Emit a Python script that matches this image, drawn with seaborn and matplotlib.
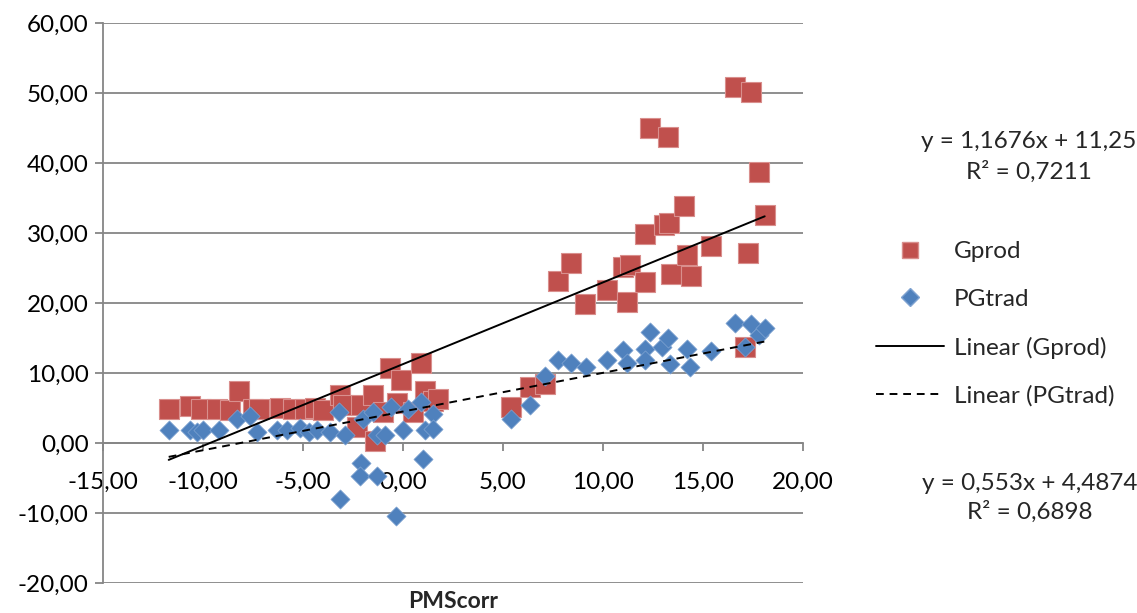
import numpy as np
import pandas as pd
import seaborn as sns
import matplotlib
matplotlib.use("Agg")
import matplotlib.pyplot as plt
from matplotlib.lines import Line2D
from matplotlib.ticker import FuncFormatter, MultipleLocator

# ---------------- data ----------------
gprod_x = [-11.7, -10.65, -10.1, -9.3, -8.65, -8.2, -7.5, -7.2, -6.15, -5.5, -4.9, -4.4, -4.0,
           -3.15, -3.0, -2.3, -2.07, -1.5, -1.4, -1.0, -0.65, -0.3, -0.07, 0.5, 0.93, 1.1, 1.5, 1.77,
           5.43, 6.38, 7.1, 7.77, 8.43, 9.13, 10.2, 11.0, 11.35, 11.2, 12.13, 12.1, 12.35, 13.07,
           13.3, 13.27, 13.4, 14.07, 14.2, 14.4, 15.4, 16.6, 17.1, 17.25, 17.4, 17.8, 18.1]
gprod_y = [4.9, 5.3, 4.9, 4.8, 4.7, 7.5, 4.8, 4.8, 5.0, 4.8, 4.8, 5.0, 4.7,
           6.8, 5.5, 2.3, 5.4, 6.8, 0.3, 4.5, 10.7, 5.7, 9.0, 4.5, 11.5, 7.5, 6.0, 6.3,
           5.1, 8.0, 8.5, 23.2, 25.7, 19.8, 21.9, 25.2, 25.5, 20.2, 23.0, 29.9, 45.0, 31.2,
           31.4, 43.7, 24.1, 33.9, 26.8, 23.9, 28.2, 50.9, 13.7, 27.1, 50.1, 38.7, 32.6]

pgtrad_x = [-11.7, -10.65, -10.3, -10.0, -9.2, -8.3, -7.65, -7.3, -6.3, -5.8, -5.15, -4.7, -4.3,
            -3.65, -3.2, -3.15, -2.9, -2.07, -2.15, -1.98, -1.5, -1.3, -1.28, -0.9, -0.57, -0.32,
            0.0, 0.27, 0.93, 1.0, 1.1, 1.5, 1.5,
            5.4, 6.38, 7.1, 7.77, 8.43, 9.15, 10.23, 11.0, 11.2, 12.13, 12.35, 12.13, 12.97, 13.27,
            13.35, 14.2, 14.35, 15.4, 16.6, 17.4, 17.1, 17.8, 18.1]
pgtrad_y = [1.9, 1.8, 1.6, 1.8, 1.8, 3.5, 3.9, 1.6, 1.8, 1.8, 2.1, 1.6, 1.8,
            1.6, 4.4, -8.0, 1.1, -2.9, -4.7, 3.5, 4.4, 1.1, -4.7, 1.1, 5.1, -10.4,
            1.8, 4.9, 5.8, -2.3, 1.8, 4.2, 2.0,
            3.5, 5.5, 9.6, 11.9, 11.5, 10.8, 11.8, 13.3, 11.4, 13.5, 15.8, 11.8, 13.7, 15.0,
            11.3, 13.5, 10.8, 13.1, 17.1, 17.0, 13.7, 15.4, 16.5]

# trendline coefficients shown on the chart
gprod_fit = (1.1676, 11.25, 0.7211)
pgtrad_fit = (0.553, 4.4874, 0.6898)

series_names = ["Gprod", "PGtrad"]
trend_names = ["Linear (Gprod)", "Linear (PGtrad)"]

# ---------------- styling ----------------
sns.set_style("white")
plt.rcParams["font.family"] = ["Lato", "DejaVu Sans"]
FS = 17.5
RED = "#C0504D"
BLUE = "#4F81BD"
GRAY = "#868686"

fig = plt.figure(figsize=(11.37, 6.13), dpi=100)
ax = fig.add_axes([102.7 / 1137, 1 - 583 / 613, 700 / 1137, 560 / 613])

df_g = pd.DataFrame({"x": gprod_x, "y": gprod_y})
df_p = pd.DataFrame({"x": pgtrad_x, "y": pgtrad_y})

sns.scatterplot(data=df_g, x="x", y="y", marker="s", s=200, color=RED,
                edgecolor="#D98F8D", linewidth=0.8, ax=ax, zorder=3, legend=False)
sns.scatterplot(data=df_p, x="x", y="y", marker="D", s=95, color=BLUE,
                edgecolor="#7FA3D1", linewidth=0.5, ax=ax, zorder=4, legend=False)

for xs, (m, b, _), ls in [(gprod_x, gprod_fit, "-"), (pgtrad_x, pgtrad_fit, (0, (4, 3)))]:
    tx = np.array([min(xs), max(xs)])
    sns.lineplot(x=tx, y=m * tx + b, ax=ax, color="black", lw=1.4, linestyle=ls, zorder=5)

ax.set_xlim(-15, 20)
ax.set_ylim(-20, 60)
ax.xaxis.set_major_locator(MultipleLocator(5))
ax.yaxis.set_major_locator(MultipleLocator(10))
fmt = FuncFormatter(lambda v, p: f"{v:.2f}".replace(".", ",").replace("−", "-"))
ax.xaxis.set_major_formatter(fmt)
ax.yaxis.set_major_formatter(fmt)

ax.grid(axis="y", color=GRAY, lw=1.3)
ax.grid(axis="x", visible=False)
for s in ["top", "right"]:
    ax.spines[s].set_visible(False)
ax.spines["bottom"].set_position(("data", 0))
for s in ["left", "bottom"]:
    ax.spines[s].set_color(GRAY)
    ax.spines[s].set_linewidth(1.3)
ax.tick_params(axis="both", direction="out", length=6, width=1.3, color=GRAY,
               labelsize=FS, labelcolor="black")
ax.tick_params(axis="x", pad=15, bottom=True)
ax.tick_params(axis="y", pad=4, left=True)
ax.set_xlabel("")
ax.set_ylabel("")
fig.text(453 / 1137, 1 - 602 / 613, "PMScorr", ha="center", va="center",
         fontsize=FS - 1, fontweight="bold")

handles = [
    Line2D([], [], marker="s", color=RED, markersize=12, linestyle="none", markeredgecolor="#D98F8D"),
    Line2D([], [], marker="D", color=BLUE, markersize=9, linestyle="none", markeredgecolor="#7FA3D1"),
    Line2D([], [], color="black", lw=1.4),
    Line2D([], [], color="black", lw=1.4, linestyle=(0, (4, 3))),
]
ax.legend(handles, series_names + trend_names, loc="upper left",
          bbox_to_anchor=(876 / 1137, 1 - 241 / 613), bbox_transform=fig.transFigure,
          frameon=False, fontsize=FS, handlelength=2.8, handletextpad=0.4,
          labelspacing=1.1, borderpad=0, borderaxespad=0)

def eq_text(m, b, r2):
    f = lambda v: f"{v:g}".replace(".", ",")
    return f"y = {f(m)}x + {f(b)}\nR² = {f(r2)}"

fig.text(1029 / 1137, 1 - 157 / 613, eq_text(*gprod_fit), ha="center", va="center",
         multialignment="center", fontsize=FS, linespacing=1.45)
fig.text(1030 / 1137, 1 - 498 / 613, eq_text(*pgtrad_fit), ha="center", va="center",
         multialignment="center", fontsize=FS, linespacing=1.4)

fig.savefig("out.png", dpi=100)
